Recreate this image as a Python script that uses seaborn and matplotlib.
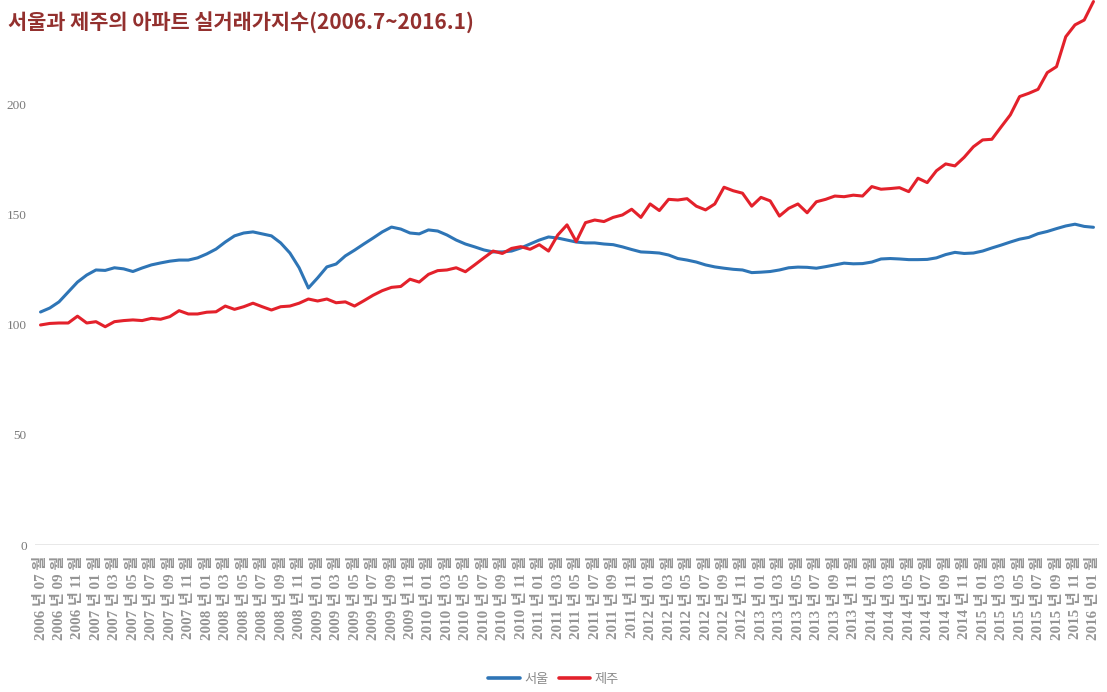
import numpy as np
import pandas as pd
import matplotlib
matplotlib.use('Agg')
import matplotlib.pyplot as plt
import seaborn as sns

# %% data
months = pd.period_range('2006-07', '2016-01', freq='M')
month_labels = [f'{p.year} 년 {p.month:02d} 월' for p in months]

seoul = [105.9, 107.7, 110.5, 115.0, 119.5, 122.7, 125.0, 124.8, 126.0, 125.5,
         124.3, 125.9, 127.3, 128.2, 129.0, 129.5, 129.5, 130.5, 132.3, 134.5,
         137.7, 140.5, 141.8, 142.3, 141.4, 140.5, 137.3, 132.7, 126.0, 116.8,
         121.4, 126.4, 127.7, 131.4, 134.0, 136.8, 139.5, 142.3, 144.5, 143.6,
         141.8, 141.4, 143.2, 142.7, 140.9, 138.6, 136.8, 135.5, 134.1, 133.2,
         133.2, 133.6, 135.0, 136.8, 138.6, 140.0, 139.5, 138.6, 137.7, 137.3,
         137.3, 136.8, 136.5, 135.5, 134.3, 133.2, 133.0, 132.7, 131.8, 130.2,
         129.5, 128.6, 127.3, 126.4, 125.8, 125.3, 125.0, 123.8, 124.0, 124.3,
         125.0, 126.0, 126.3, 126.2, 125.8, 126.5, 127.3, 128.1, 127.8, 127.9,
         128.6, 130.0, 130.2, 130.0, 129.7, 129.7, 129.8, 130.5, 132.0, 133.0,
         132.5, 132.7, 133.6, 135.0, 136.3, 137.7, 139.0, 139.8, 141.5, 142.5,
         143.8, 145.0, 145.8, 144.8, 144.4]

jeju = [100.0, 100.7, 100.9, 100.9, 104.0, 100.9, 101.5, 99.2, 101.5, 102.0,
        102.3, 102.0, 103.0, 102.6, 103.8, 106.5, 105.0, 105.0, 105.8, 106.0,
        108.6, 107.1, 108.3, 109.9, 108.3, 106.8, 108.3, 108.6, 109.9, 111.8,
        110.9, 111.8, 110.1, 110.5, 108.6, 111.0, 113.5, 115.6, 117.1, 117.5,
        120.8, 119.5, 123.0, 124.7, 125.0, 126.0, 124.2, 127.3, 130.5, 133.6,
        132.5, 134.8, 135.6, 134.4, 136.5, 133.6, 140.9, 145.5, 137.9, 146.5,
        147.7, 147.0, 148.9, 150.0, 152.6, 148.9, 155.0, 152.0, 157.1, 156.8,
        157.4, 154.0, 152.3, 155.0, 162.6, 161.0, 159.9, 154.0, 158.0, 156.4,
        149.5, 153.0, 155.0, 151.0, 156.0, 157.1, 158.6, 158.3, 159.0, 158.6,
        162.9, 161.7, 162.0, 162.4, 160.6, 166.7, 164.7, 170.1, 173.2, 172.3,
        176.2, 181.0, 184.1, 184.4, 190.0, 195.5, 203.8, 205.3, 207.1, 214.7,
        217.4, 231.0, 236.4, 238.6, 247.0]

series_names = ['서울', '제주']
series_colors = ['#2E75B6', '#E3212B']

df = pd.DataFrame({'idx': np.arange(len(months)), '서울': seoul, '제주': jeju})
long = df.melt(id_vars='idx', var_name='지역', value_name='지수')

# %% plot
sns.set_style('white')
plt.rcParams['font.family'] = ['Liberation Serif', 'Noto Sans CJK KR']

fig = plt.figure(figsize=(11.07, 6.92), dpi=100)
ax = fig.add_axes([35 / 1107, 1 - 545 / 692, 1064 / 1107, 545 / 692])

sns.lineplot(data=long, x='idx', y='지수', hue='지역', hue_order=series_names,
             palette=series_colors, linewidth=2.2, ax=ax, legend=False)

ax.set_xlim(-0.6, len(months) - 0.4)
ax.set_ylim(0, 247.7)
ax.set_yticks([0, 50, 100, 150, 200])
ax.tick_params(axis='y', labelsize=9.5, labelcolor='#7a7a7a', length=0, pad=6)
ax.axhline(0, color='#e4e4e4', lw=1.2, zorder=0)

ticks = np.arange(0, len(months), 2)
ax.set_xticks(ticks)
ax.set_xticklabels([month_labels[i] for i in ticks], rotation=90,
                   fontsize=10.8, color='#959595', fontweight='bold')
ax.tick_params(axis='x', length=0, pad=8)
ax.set_xlabel('')
ax.set_ylabel('')
sns.despine(ax=ax, left=True, bottom=True)

# legend
handles = [plt.Line2D([], [], color=c, lw=2.6) for c in series_colors]
fig.legend(handles, series_names, loc='center', bbox_to_anchor=(0.5, 0.018),
           ncol=2, frameon=False, handlelength=2.4,
           columnspacing=0.8, handletextpad=0.3, labelcolor='#8a8a8a',
           prop={'family': ['Noto Sans CJK KR'], 'size': 9.5})

fig.text(8 / 1107, 1 - 22 / 692, '서울과 제주의 아파트 실거래가지수(2006.7~2016.1)',
         fontsize=15, fontweight='bold', color='#93302E', va='center', ha='left',
         family=['Noto Sans CJK KR'])

fig.savefig('out.png', dpi=100)
